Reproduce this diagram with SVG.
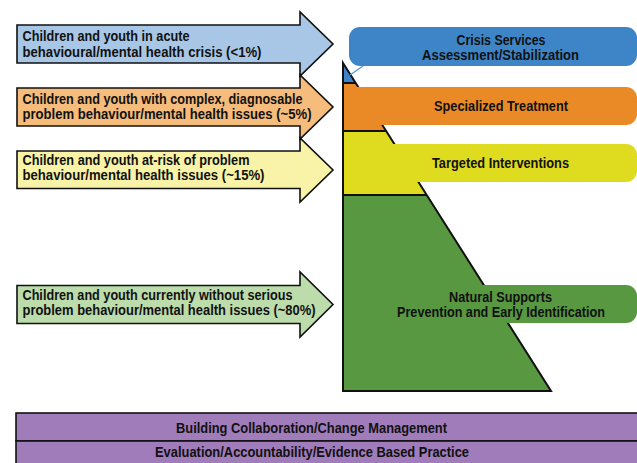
<svg xmlns="http://www.w3.org/2000/svg" width="637" height="463" viewBox="0 0 637 463">
<style>
text{font-family:"Liberation Sans Narrow","Liberation Sans",Arial,sans-serif;font-weight:bold;fill:#111;font-size:14.5px}
.lt{text-anchor:start}
.ct{text-anchor:middle}
.arrow{stroke:#111;stroke-width:1.6;stroke-linejoin:miter}
.sec{stroke:none}
.edge{fill:none;stroke:#111;stroke-width:2}
</style>
<rect width="637" height="463" fill="#ffffff"/>

<!-- left arrows -->
<g id="arrow-crisis">
<polygon class="arrow" fill="#a8c7e6" points="17,25 300,25 300,12 333,44 300,76 300,63 17,63"/>
<text class="lt" x="22.5" y="41" textLength="167" lengthAdjust="spacingAndGlyphs">Children and youth in acute</text>
<text class="lt" x="22.5" y="56.5" textLength="239" lengthAdjust="spacingAndGlyphs">behavioural/mental health crisis (&lt;1%)</text>
</g>
<g id="arrow-complex">
<polygon class="arrow" fill="#f5bc7c" points="17,88 300,88 300,75 333,107 300,139 300,126 17,126"/>
<text class="lt" x="22.5" y="103.5" textLength="280" lengthAdjust="spacingAndGlyphs">Children and youth with complex, diagnosable</text>
<text class="lt" x="22.5" y="118.5" textLength="289" lengthAdjust="spacingAndGlyphs">problem behaviour/mental health issues (~5%)</text>
</g>
<g id="arrow-atrisk">
<polygon class="arrow" fill="#f8f3a6" points="17,151 300,151 300,138 333,170 300,202 300,188.5 17,188.5"/>
<text class="lt" x="22.5" y="165" textLength="227" lengthAdjust="spacingAndGlyphs">Children and youth at-risk of problem</text>
<text class="lt" x="22.5" y="180" textLength="242" lengthAdjust="spacingAndGlyphs">behaviour/mental health issues (~15%)</text>
</g>
<g id="arrow-without">
<polygon class="arrow" fill="#bcdcab" points="17,285.5 300,285.5 300,272 333,304.5 300,337 300,323.5 17,323.5"/>
<text class="lt" x="22.5" y="300" textLength="270" lengthAdjust="spacingAndGlyphs">Children and youth currently without serious</text>
<text class="lt" x="22.5" y="315" textLength="293" lengthAdjust="spacingAndGlyphs">problem behaviour/mental health issues (~80%)</text>
</g>

<!-- pyramid -->
<g id="pyramid">
<polygon class="sec" fill="#3d85c6" points="343,63 355.7,83 343,83"/>
<polygon class="sec" fill="#e98a27" points="343,83 355.7,83 386.1,131 343,131"/>
<polygon class="sec" fill="#dfdb1e" points="343,131 386.1,131 426.7,195 343,195"/>
<polygon class="sec" fill="#589841" points="343,195 426.7,195 551,391 343,391"/>
<polygon class="edge" points="343,63 551,391 343,391"/>
<line class="edge" x1="343" y1="83" x2="355.7" y2="83"/>
<line class="edge" x1="343" y1="131" x2="386.1" y2="131"/>
<line class="edge" x1="343" y1="195" x2="426.7" y2="195"/>
</g>

<!-- connectors -->
<g id="connectors">
<line x1="363" y1="66" x2="350" y2="75" stroke="#5b9bd5" stroke-width="1.5"/>
</g>

<!-- level labels -->
<g id="level-crisis">
<rect x="349" y="27" width="288" height="39" rx="11" fill="#3d85c6"/>
<text class="ct" x="501" y="45" textLength="89" lengthAdjust="spacingAndGlyphs">Crisis Services</text>
<text class="ct" x="500.5" y="59.5" textLength="157" lengthAdjust="spacingAndGlyphs">Assessment/Stabilization</text>
</g>
<g id="level-specialized">
<rect x="346" y="87" width="291" height="38" rx="11" fill="#e98a27"/>
<text class="ct" x="501" y="111" textLength="134" lengthAdjust="spacingAndGlyphs">Specialized Treatment</text>
</g>
<g id="level-targeted">
<rect x="346" y="144" width="291" height="38" rx="11" fill="#dfdb1e"/>
<text class="ct" x="500.5" y="168" textLength="137" lengthAdjust="spacingAndGlyphs">Targeted Interventions</text>
</g>
<g id="level-natural">
<rect x="470" y="285" width="167" height="38" rx="11" fill="#589841"/>
<text class="ct" x="500.5" y="302" textLength="103" lengthAdjust="spacingAndGlyphs">Natural Supports</text>
<text class="ct" x="501" y="317" textLength="208" lengthAdjust="spacingAndGlyphs">Prevention and Early Identification</text>
</g>

<!-- bottom bars -->
<g id="bar-collaboration">
<rect x="16" y="413" width="625" height="28" fill="#a07cba" stroke="#111" stroke-width="1.6"/>
<text class="ct" x="311.5" y="433" textLength="271" lengthAdjust="spacingAndGlyphs">Building Collaboration/Change Management</text>
</g>
<g id="bar-evaluation">
<rect x="16" y="441" width="625" height="30" fill="#a07cba" stroke="#111" stroke-width="1.6"/>
<text class="ct" x="312" y="457" textLength="314" lengthAdjust="spacingAndGlyphs">Evaluation/Accountability/Evidence Based Practice</text>
</g>
</svg>
